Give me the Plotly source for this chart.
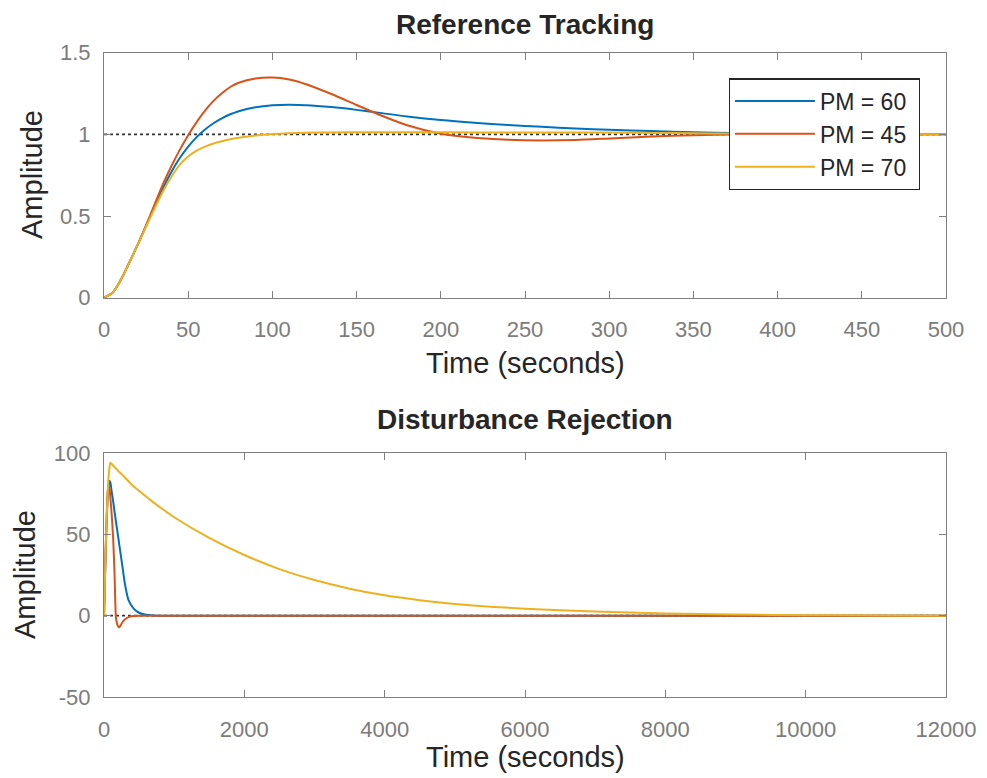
import plotly.graph_objects as go
from plotly.subplots import make_subplots

# Reference tracking (step response), time in seconds
t_ref = [0, 5, 10, 15, 20, 25, 30, 35, 40, 45, 50, 55, 60, 65, 70, 75, 80, 90, 100,
         110, 120, 135, 150, 165, 180, 200, 220, 240, 260, 280, 300, 325, 350, 375,
         400, 450, 500]
ref_pm60 = [0, 0.03, 0.11, 0.215, 0.325, 0.44, 0.56, 0.67, 0.77, 0.855, 0.925, 0.983, 1.03,
            1.068, 1.098, 1.123, 1.142, 1.166, 1.178, 1.182, 1.179, 1.167, 1.15, 1.13,
            1.11, 1.088, 1.071, 1.057, 1.046, 1.036, 1.028, 1.02, 1.013, 1.008, 1.005,
            1.002, 1.0]
ref_pm45 = [0, 0.03, 0.11, 0.215, 0.325, 0.445, 0.57, 0.695, 0.805, 0.905, 0.995, 1.075, 1.145,
            1.205, 1.252, 1.29, 1.316, 1.342, 1.348, 1.336, 1.307, 1.247, 1.18, 1.114,
            1.056, 1.004, 0.979, 0.967, 0.963, 0.966, 0.975, 0.987, 0.995, 0.999, 1.001,
            1.0, 1.0]
ref_pm70 = [0, 0.03, 0.11, 0.215, 0.325, 0.435, 0.545, 0.65, 0.74, 0.815, 0.865, 0.9,
            0.925, 0.944, 0.958, 0.97, 0.979, 0.993, 1.002, 1.007, 1.01, 1.012, 1.013,
            1.013, 1.013, 1.013, 1.012, 1.012, 1.012, 1.011, 1.011, 1.009, 1.007, 1.005,
            1.004, 1.002, 1.0]

# Disturbance rejection
t_dist = [0, 20, 40, 60, 75, 90, 110, 130, 150, 170, 190, 210, 230, 260, 300, 350, 420,
          500, 600, 700, 800, 1000, 1500, 2000, 2500, 3000, 3500, 4000, 4500, 5000,
          6000, 7000, 8000, 9000, 10000, 11000, 12000]
dist_pm60 = [0, 32, 60, 78, 83, 82, 76, 70.5, 64, 58, 52, 46, 40, 31, 19, 9.5, 4.5,
             1.8, 0.5, 0.1, 0, 0, 0, 0, 0, 0, 0, 0, 0, 0, 0, 0, 0, 0, 0, 0, 0]
dist_pm45 = [0, 36, 64, 80, 79, 73, 62, 48, 26, -1, -5.5, -7.2, -6.5, -4.2, -2.2, -0.9,
             -0.2, 0, 0, 0, 0, 0, 0, 0, 0, 0, 0, 0, 0, 0, 0, 0, 0, 0, 0, 0, 0]
dist_pm70 = [0, 35, 62, 82, 90, 94, 93.2, 92.3, 91.4, 90.5, 89.6, 88.7, 87.9, 86.6, 84.8,
             82.6, 79.5, 76.8, 73.2, 69.8, 66.6, 60.5, 47.8, 37.3, 28.6, 21.9, 16.6, 12.5,
             9.5, 7.2, 4.3, 2.5, 1.4, 0.7, 0.3, 0.1, 0]

series = [('PM = 60', '#0072BD', ref_pm60, dist_pm60),
          ('PM = 45', '#D95319', ref_pm45, dist_pm45),
          ('PM = 70', '#EDB120', ref_pm70, dist_pm70)]

FONT = 'Liberation Sans, Arial, sans-serif'
AXIS_GRAY = '#808080'
TICK_GRAY = '#7c7c7c'
TEXT = '#262626'

# the page body adds an 8px offset, so the figure is 8px smaller than the window
W, H = 979, 770

fig = make_subplots(rows=2, cols=1)

# dotted steady-state reference lines
fig.add_trace(go.Scatter(x=[0, 500], y=[1, 1], mode='lines', showlegend=False,
                         line=dict(color='#333333', width=1.6, dash='dot'),
                         hoverinfo='skip'), row=1, col=1)
fig.add_trace(go.Scatter(x=[0, 12000], y=[0, 0], mode='lines', showlegend=False,
                         line=dict(color='#333333', width=1.6, dash='dot'),
                         hoverinfo='skip'), row=2, col=1)

for name, color, ref, dist in series:
    fig.add_trace(go.Scatter(x=t_ref, y=ref, mode='lines', name=name + '\u00a0',
                             line=dict(color=color, width=2, shape='spline', smoothing=0.8)),
                  row=1, col=1)
    fig.add_trace(go.Scatter(x=t_dist, y=dist, mode='lines', name=name, showlegend=False,
                             line=dict(color=color, width=2, shape='spline', smoothing=0.6)),
                  row=2, col=1)

axis_common = dict(showline=True, linecolor=AXIS_GRAY, linewidth=1.2, mirror='ticks',
                   ticks='inside', ticklen=7, tickcolor=AXIS_GRAY, tickwidth=1,
                   showgrid=False, zeroline=False, automargin=False,
                   tickfont=dict(family=FONT, size=22, color=TICK_GRAY))

fig.update_xaxes(axis_common)
fig.update_yaxes(axis_common)

xdom = [96 / W, 938 / W]
fig.update_xaxes(range=[0, 500], tickvals=list(range(0, 501, 50)), domain=xdom,
                 ticklabelstandoff=12, row=1, col=1)
fig.update_yaxes(range=[0, 1.5], tickvals=[0, 0.5, 1, 1.5], ticktext=['0', '0.5', '1', '1.5'],
                 domain=[1 - 289.7 / H, 1 - 44.7 / H], ticklabelstandoff=8, row=1, col=1)
fig.update_xaxes(range=[0, 12000], tickvals=list(range(0, 12001, 2000)), tickformat='d',
                 domain=xdom, ticklabelstandoff=12, row=2, col=1)
fig.update_yaxes(range=[-50, 100], tickvals=[-50, 0, 50, 100], ticktext=['-50', '0', '50', '100'],
                 domain=[1 - 689 / H, 1 - 445 / H], ticklabelstandoff=8, row=2, col=1)

# (text, x px, y px, size, angle) in figure pixels
labels = [
    ('<b>Reference Tracking</b>', 517, 16, 28, 0),
    ('<b>Disturbance Rejection</b>', 517, 412, 28, 0),
    ('Time (seconds)', 517, 355, 29, 0),
    ('Time (seconds)', 517, 749, 29, 0),
    ('Amplitude', 24, 167, 29, -90),
    ('Amplitude', 17, 567, 29, -90),
]
for text, px, py, size, angle in labels:
    fig.add_annotation(text=text, x=px / W, y=1 - py / H, xref='paper', yref='paper',
                       xanchor='center', yanchor='middle', showarrow=False, textangle=angle,
                       font=dict(family=FONT, size=size, color=TEXT))

fig.update_layout(
    width=W, height=H,
    margin=dict(l=0, r=0, t=0, b=0),
    plot_bgcolor='white', paper_bgcolor='white',
    font=dict(family=FONT, color=TEXT),
    legend=dict(x=720.7 / W, y=1 - 70.3 / H, xanchor='left', yanchor='top',
                bgcolor='white', bordercolor='#262626', borderwidth=1.2,
                font=dict(family=FONT, size=23, color=TEXT),
                itemwidth=80, tracegroupgap=0),
)

fig.write_html('out.html')
